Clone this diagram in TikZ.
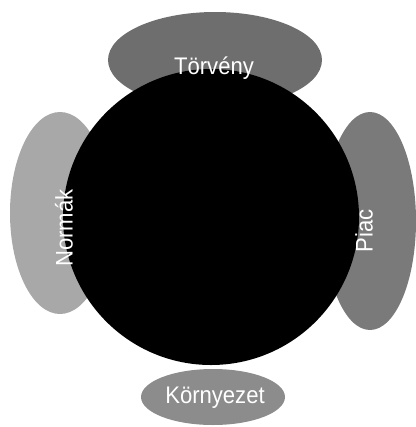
\documentclass[tikz,border=0pt]{standalone}
\usepackage{fontspec}
\setmainfont{Liberation Sans}[FakeStretch=0.92]
\begin{document}
\begin{tikzpicture}
% four fields around the core circle
\providecommand{\fieldTopColor}{black!57}
\providecommand{\fieldLeftColor}{black!34}
\providecommand{\fieldRightColor}{black!52}
\providecommand{\fieldBottomColor}{black!45}
\providecommand{\coreColor}{black}
\tikzset{fieldlabel/.style={text=white, font=\fontsize{24bp}{26bp}\selectfont, inner sep=0pt}}
\begin{scope}[x=1bp, y=-1bp]
  \useasboundingbox (0,0) rectangle (416,427);
  % Ellipses behind the circle
  \fill[\fieldTopColor] (215,60) ellipse [x radius=107bp, y radius=48bp];
  \fill[\fieldLeftColor] (60,213) ellipse [x radius=50bp, y radius=101bp];
  \fill[\fieldRightColor] (370,221) ellipse [x radius=46bp, y radius=109bp];
  \fill[\fieldBottomColor] (213,397) ellipse [x radius=72bp, y radius=28bp];
  % Core
  \fill[\coreColor] (211,217) circle [radius=148bp];
  % Labels
  \node[fieldlabel] (torveny) at (214,68) {Törvény};
  \node[fieldlabel, rotate=90] (normak) at (64,228) {Normák};
  \node[fieldlabel, rotate=90] (piac) at (364,231) {Piac};
  \node[fieldlabel] (kornyezet) at (215,398) {Környezet};
\end{scope}
\end{tikzpicture}
\end{document}
